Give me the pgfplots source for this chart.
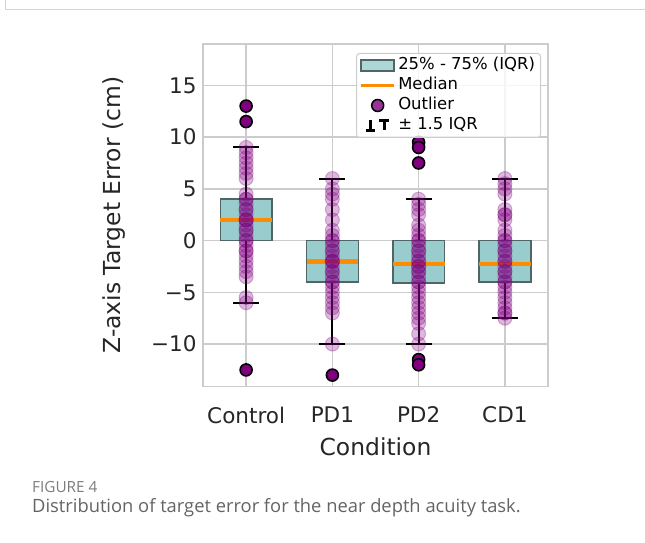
\documentclass[border=0pt]{standalone}
\usepackage{fontspec}
\setmainfont{DejaVu Sans}
\newfontfamily\capfont{Open Sans}
\usepackage{pgfplots}
\pgfplotsset{compat=1.18}
\usepgfplotslibrary{statistics}

\definecolor{boxfill}{RGB}{153,204,204}
\definecolor{boxedge}{RGB}{80,102,102}
\definecolor{gridgray}{RGB}{204,204,204}
\definecolor{mpurple}{RGB}{128,0,128}
\definecolor{morange}{RGB}{255,140,0}
\definecolor{framegray}{RGB}{212,212,212}
\definecolor{capgray}{RGB}{100,100,100}
\definecolor{figgray}{RGB}{125,125,125}

% box statistics
\pgfplotsset{
  statC/.style={boxplot prepared={draw position=0, median=2, lower quartile=0, upper quartile=4,
      lower whisker=-6, upper whisker=9, box extend=0.6, whisker extend=0.3}},
  statA/.style={boxplot prepared={draw position=1, median=-2, lower quartile=-4, upper quartile=0,
      lower whisker=-10, upper whisker=6, box extend=0.6, whisker extend=0.3}},
  statB/.style={boxplot prepared={draw position=2, median=-2.25, lower quartile=-4.1, upper quartile=0,
      lower whisker=-10, upper whisker=4, box extend=0.6, whisker extend=0.3}},
  statD/.style={boxplot prepared={draw position=3, median=-2.25, lower quartile=-4, upper quartile=0,
      lower whisker=-7.5, upper whisker=6, box extend=0.6, whisker extend=0.3}},
  fillpass/.style={forget plot, boxplot/draw direction=y,
      boxplot/every box/.style={fill=boxfill, draw=none},
      boxplot/every whisker/.style={draw=none},
      boxplot/every median/.style={draw=none}},
  linepass/.style={forget plot, boxplot/draw direction=y,
      boxplot/every box/.style={fill=none, draw=boxedge, line width=1.5bp},
      boxplot/every whisker/.style={draw=black, line width=2bp},
      boxplot/every median/.style={draw=morange, line width=4.5bp}},
}

\begin{document}
\begin{tikzpicture}[x=1bp,y=1bp]
\path[use as bounding box] (0,0) rectangle (645,543);
\draw[framegray, line width=1.3bp] (5.5,543) -- (5.5,533.5) -- (645,533.5);

\begin{axis}[
  at={(203bp,156.5bp)}, anchor=south west,
  width=345bp, height=342.5bp, scale only axis,
  xmin=-0.5, xmax=3.5, ymin=-14.1, ymax=19,
  xtick={0,1,2,3}, xticklabels={Control,PD1,PD2,CD1},
  ytick={-10,-5,0,5,10,15}, yticklabels={−10,−5,0,5,10,15},
  tick style={draw=none},
  grid=major, major grid style={draw=gridgray, line width=1.3bp},
  axis line style={draw=gridgray, line width=1.8bp},
  ticklabel style={font=\fontsize{21.6}{26}\selectfont, text=black!85},
  xticklabel style={yshift=-17bp},
  yticklabel style={xshift=-3bp},
  xlabel={Condition},
  ylabel={Z-axis Target Error (cm)},
  label style={font=\fontsize{23.5}{28}\selectfont, text=black!85},
  xlabel style={at={(rel axis cs:0.5,0)}, anchor=center, yshift=-60.5bp},
  ylabel style={at={(rel axis cs:0,0.5)}, anchor=center, yshift=89bp},
  legend style={at={(1,1)}, anchor=north east, xshift=-7bp, yshift=-9bp,
    draw=gridgray, line width=1bp, rounded corners=3bp, fill=white, fill opacity=0.8, text opacity=1,
    font=\fontsize{16.5}{19}\selectfont, inner xsep=3bp, inner ysep=2bp,
    nodes={inner xsep=2.5bp, inner ysep=1.5bp, text height=12.5bp, text depth=4.5bp}},
  legend cell align=left,
]
% boxes (fill only)
\addplot[statC, fillpass] coordinates {};
\addplot[statA, fillpass] coordinates {};
\addplot[statB, fillpass] coordinates {};
\addplot[statD, fillpass] coordinates {};

% individual trials
\addplot[only marks, mark=*, mark size=7bp, forget plot,
  mark options={draw=mpurple, fill=mpurple, opacity=0.28, line width=1bp}] coordinates {
  (0,9) (0,8.5) (0,8) (0,7.5) (0,7) (0,6.5) (0,6) (0,4.5) (0,4) (0,4) (0,3.5) (0,3) (0,3)
  (0,2.5) (0,2) (0,2) (0,2) (0,1.5) (0,1) (0,1) (0,0.5) (0,0) (0,0) (0,-0.5) (0,-1)
  (0,-1) (0,-1.5) (0,-2) (0,-2.5) (0,-3) (0,-3.5) (0,-5.5) (0,-6)
  (1,6) (1,5) (1,4.5) (1,4) (1,3) (1,2) (1,1) (1,0.5) (1,0) (1,0) (1,-0.5) (1,-1)
  (1,-1) (1,-1.5) (1,-2) (1,-2) (1,-2) (1,-2.5) (1,-3) (1,-3) (1,-3.5) (1,-4) (1,-4)
  (1,-4.5) (1,-5) (1,-5.5) (1,-6) (1,-6.5) (1,-7) (1,-10)
  (2,4) (2,3.5) (2,3) (2,2.5) (2,1.5) (2,1) (2,0.5) (2,0) (2,0) (2,-0.5) (2,-1) (2,-1)
  (2,-1.5) (2,-2) (2,-2) (2,-2.5) (2,-2.5) (2,-3) (2,-3) (2,-3.5) (2,-4) (2,-4) (2,-4.5)
  (2,-5) (2,-5.5) (2,-6) (2,-6.5) (2,-7) (2,-7.5) (2,-8) (2,-9) (2,-10)
  (3,6) (3,5.5) (3,5) (3,4.5) (3,3) (3,2.5) (3,2.5) (3,2) (3,1) (3,0.5) (3,0) (3,0)
  (3,-0.5) (3,-1) (3,-1) (3,-1.5) (3,-2) (3,-2) (3,-2.5) (3,-3) (3,-3) (3,-3.5) (3,-4)
  (3,-4) (3,-4.5) (3,-5) (3,-5.5) (3,-6) (3,-6.5) (3,-7) (3,-7) (3,-7.5)
};

% box edges, whiskers, medians
\addplot[statC, linepass] coordinates {};
\addplot[statA, linepass] coordinates {};
\addplot[statB, linepass] coordinates {};
\addplot[statD, linepass] coordinates {};

% outliers
\addplot[only marks, mark=*, mark size=6bp, forget plot,
  mark options={draw=black, fill=mpurple, line width=1.6bp}] coordinates {
  (0,13) (0,11.5) (0,-12.5) (1,-13) (2,9.5) (2,9) (2,7.5) (2,-11.5) (2,-12)
};

\addlegendimage{legend image code/.code={
  \path[draw=none, fill=none] (0bp,-6bp) rectangle (33bp,6bp);
  \draw[sharp corners, fill=boxfill, draw=boxedge, line width=1.5bp] (0bp,-5.5bp) rectangle (33bp,5.5bp);}}
\addlegendentry{25\% - 75\% (IQR)}
\addlegendimage{legend image code/.code={
  \path[draw=none, fill=none] (0bp,-6bp) rectangle (33bp,6bp);
  \draw[sharp corners, draw=morange, line width=3.2bp] (0bp,0bp) -- (33bp,0bp);}}
\addlegendentry{Median}
\addlegendimage{legend image code/.code={
  \path[draw=none, fill=none] (0bp,-6bp) rectangle (33bp,6bp);
  \draw[draw=black, fill=mpurple, line width=1.5bp] (16.5bp,0bp) circle (6bp);}}
\addlegendentry{Outlier}
\addlegendimage{legend image code/.code={
  \path[draw=none, fill=none] (0bp,-6bp) rectangle (33bp,6bp);
  \draw[sharp corners, draw=black, line width=2.7bp] (5bp,-5bp) -- (14bp,-5bp) (9.5bp,-5bp) -- (9.5bp,5bp)
    (18bp,5bp) -- (28bp,5bp) (23bp,5bp) -- (23bp,-5bp);}}
\addlegendentry{± 1.5 IQR}
\end{axis}

\node[anchor=base west, inner sep=0pt, font=\capfont\fontsize{15.4}{18}\selectfont, text=figgray] at (32,50.5) {FIGURE 4};
\node[anchor=base west, inner sep=0pt, font=\capfont\fontsize{18.4}{22}\selectfont, text=capgray] at (32,30) {Distribution of target error for the near depth acuity task.};
\end{tikzpicture}
\end{document}
